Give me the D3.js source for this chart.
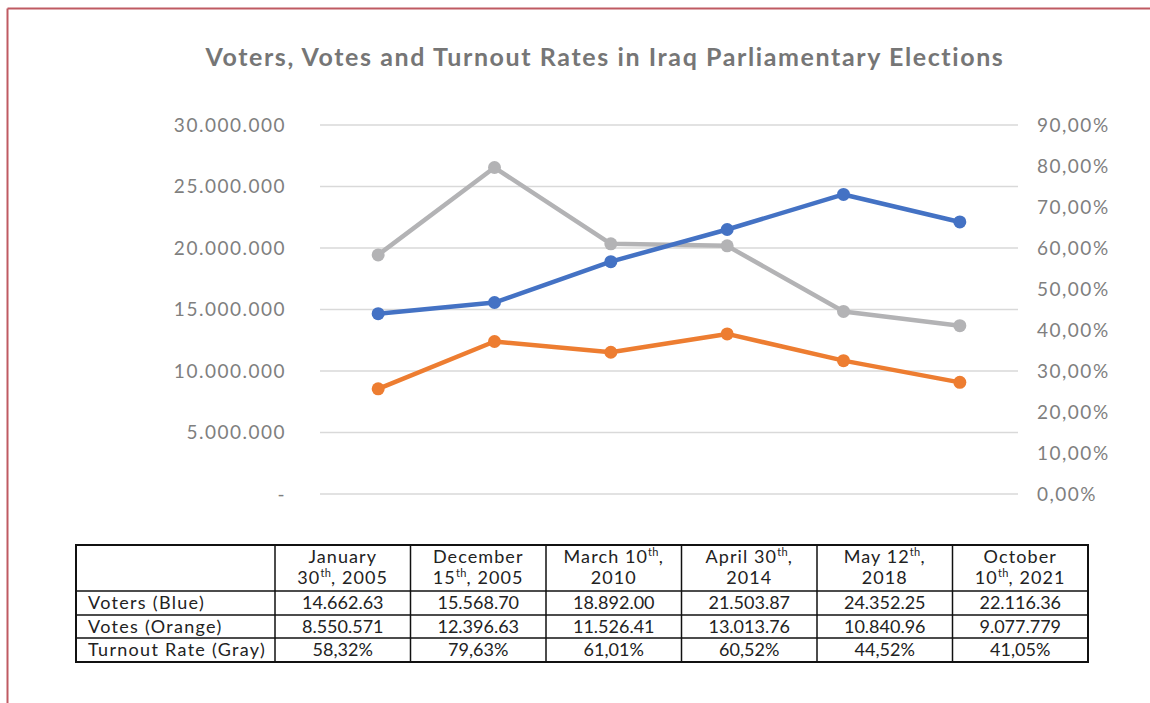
<!DOCTYPE html>
<html><head><meta charset="utf-8">
<script src="https://cdn.jsdelivr.net/npm/d3@7"></script>
<style>
html,body{margin:0;padding:0;background:#fff;}
svg{display:block;}
text{font-family:Lato,"Open Sans",sans-serif;}
</style></head>
<body>
<svg id="chart" width="1150" height="703"></svg>
<script>
const categories = ["Jan 2005","Dec 2005","Mar 2010","Apr 2014","May 2018","Oct 2021"];
const voters = [14662630, 15568700, 18892000, 21503870, 24352250, 22116360];
const votes = [8550571, 12396630, 11526410, 13013760, 10840960, 9077779];
const turnout = [0.5832, 0.7963, 0.6101, 0.6052, 0.4452, 0.4105];
const leftTicks = [0, 5000000, 10000000, 15000000, 20000000, 25000000, 30000000];
const rightTicks = [0,0.1,0.2,0.3,0.4,0.5,0.6,0.7,0.8,0.9];
const headerLines = [
  ["January","30^th^, 2005"],["December","15^th^, 2005"],["March 10^th^,","2010"],
  ["April 30^th^,","2014"],["May 12^th^,","2018"],["October","10^th^, 2021"]];
const rowNames = ["Voters (Blue)","Votes (Orange)","Turnout Rate (Gray)"];
const voterLabels = ["14.662.63","15.568.70","18.892.00","21.503.87","24.352.25","22.116.36"];
const voteLabels = ["8.550.571","12.396.63","11.526.41","13.013.76","10.840.96","9.077.779"];
const turnoutLabels = ["58,32%","79,63%","61,01%","60,52%","44,52%","41,05%"];
const title = "Voters, Votes and Turnout Rates in Iraq Parliamentary Elections";

const svg = d3.select("#chart");
// frame
svg.append("line").attr("x1",7.5).attr("x2",1150).attr("y1",8.5).attr("y2",8.5)
  .attr("stroke","#bf5a62").attr("stroke-width",2);
svg.append("line").attr("x1",7.5).attr("x2",7.5).attr("y1",8.5).attr("y2",703)
  .attr("stroke","#bf5a62").attr("stroke-width",2);

svg.append("text").attr("x",605).attr("y",66).attr("text-anchor","middle")
  .attr("font-size",25).attr("font-weight","bold").attr("fill","#767676")
  .attr("letter-spacing",1.6).text(title);

const x = d3.scaleBand().domain(categories).range([320,1018]);
const cx = d => x(d) + x.bandwidth()/2;
const yL = d3.scaleLinear().domain([0,30000000]).range([494,125]);
const yR = d3.scaleLinear().domain([0,0.9]).range([494,125]);

// gridlines
svg.append("g").selectAll("line").data(leftTicks).join("line")
  .attr("x1",320).attr("x2",1018).attr("y1",d=>yL(d)).attr("y2",d=>yL(d))
  .attr("stroke","#d9d9d9").attr("stroke-width",1.5);

const fmtL = d => d===0 ? "-" : d3.format(",")(d).replace(/,/g,".");
const axL = d3.axisLeft(yL).tickValues(leftTicks).tickSize(0).tickPadding(0).tickFormat(fmtL);
const gL = svg.append("g").attr("transform","translate(286,0)").call(axL);
gL.select(".domain").remove();
gL.selectAll("text").attr("font-size",19).attr("fill","#7f7f7f").attr("font-family","Lato,sans-serif")
  .attr("letter-spacing",1.5);

const fmtR = d => d3.format(".2f")(d*100).replace(".",",") + "%";
const axR = d3.axisRight(yR).tickValues(rightTicks).tickSize(0).tickPadding(0).tickFormat(fmtR);
const gR = svg.append("g").attr("transform","translate(1037,0)").call(axR);
gR.select(".domain").remove();
gR.selectAll("text").attr("font-size",19).attr("fill","#7f7f7f").attr("font-family","Lato,sans-serif")
  .attr("letter-spacing",1.5);

const series = [
  {vals: turnout, y: yR, color: "#b3b3b5"},
  {vals: voters, y: yL, color: "#4472c4"},
  {vals: votes, y: yL, color: "#ed7d31"}
];
series.forEach(s => {
  const line = d3.line().x((d,i)=>cx(categories[i])).y(d=>s.y(d));
  svg.append("path").datum(s.vals).attr("d",line).attr("fill","none")
    .attr("stroke",s.color).attr("stroke-width",4.5).attr("stroke-linejoin","round");
  svg.append("g").selectAll("circle").data(s.vals).join("circle")
    .attr("cx",(d,i)=>cx(categories[i])).attr("cy",d=>s.y(d)).attr("r",6.5)
    .attr("fill",s.color);
});

// table
const colX = [76,275].concat(d3.range(1,7).map(i=>275+i*(1088-275)/6));
const rowY = [545,591,615,638,662];
const tg = svg.append("g");
const tcol = "#222";
function addRich(sel, str){
  str.split("^").forEach((part,i)=>{
    if(!part) return;
    const t = sel.append("tspan").text(part);
    if(i%2===1){ t.attr("font-size",11).attr("dy",-7).attr("letter-spacing",0.3); }
    else if(i>0){ t.attr("dy",7); }
  });
}
headerLines.forEach((lines,j)=>{
  const mx = (colX[j+1]+colX[j+2])/2;
  lines.forEach((ln,k)=>{
    const t = tg.append("text").attr("x",mx).attr("y",rowY[0]+18+k*21)
      .attr("text-anchor","middle").attr("font-size",18).attr("fill",tcol)
      .attr("letter-spacing",1.1);
    addRich(t, ln);
  });
});
const rows = [voterLabels, voteLabels, turnoutLabels];
rows.forEach((arr,r)=>{
  const yc = (rowY[r+1]+rowY[r+2])/2 + 6;
  tg.append("text").attr("x",88).attr("y",yc).attr("font-size",18).attr("fill",tcol)
    .attr("letter-spacing",1.3).text(rowNames[r]);
  arr.forEach((v,j)=>{
    tg.append("text").attr("x",(colX[j+1]+colX[j+2])/2).attr("y",yc)
      .attr("text-anchor","middle").attr("font-size",18).attr("fill",tcol).text(v);
  });
});
// grid lines of table
rowY.slice(1,-1).forEach(yv=>{
  tg.append("line").attr("x1",76).attr("x2",1088).attr("y1",yv).attr("y2",yv)
    .attr("stroke","#111").attr("stroke-width",1.5);
});
colX.slice(1,-1).forEach(xv=>{
  tg.append("line").attr("x1",xv).attr("x2",xv).attr("y1",545).attr("y2",662)
    .attr("stroke","#111").attr("stroke-width",1.5);
});
tg.append("rect").attr("x",76).attr("y",545).attr("width",1088-76).attr("height",662-545)
  .attr("fill","none").attr("stroke","#111").attr("stroke-width",2);
</script>
</body></html>
